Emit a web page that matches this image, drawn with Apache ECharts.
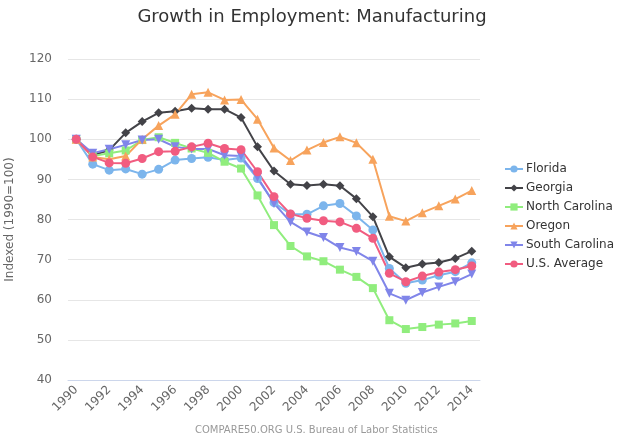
<!DOCTYPE html>
<html>
<head>
<meta charset="utf-8">
<script src="https://cdn.jsdelivr.net/npm/echarts@6/dist/echarts.min.js"></script>
<style>
  html, body { margin: 0; padding: 0; background: #fff; }
  #chart { width: 624px; height: 435px; }
</style>
</head>
<body>
<div id="chart"></div>
<script>
var years = ['1990','1991','1992','1993','1994','1995','1996','1997','1998','1999','2000','2001','2002',
             '2003','2004','2005','2006','2007','2008','2009','2010','2011','2012','2013','2014'];

var florida = [100, 93.8, 92.3, 92.6, 91.3, 92.5, 94.8, 95.2, 95.5, 94.8, 95.3, 90.2, 84.2,
               81.3, 81.3, 83.4, 84.0, 80.9, 77.4, 67.8, 64.1, 64.9, 66.1, 67.0, 69.2];
var georgia = [100, 96.0, 97.3, 101.6, 104.4, 106.6, 107.0, 107.7, 107.5, 107.5, 105.4, 98.1, 92.1,
               88.8, 88.5, 88.8, 88.4, 85.2, 80.7, 70.7, 68.0, 68.9, 69.3, 70.3, 72.1];
var northCarolina = [100, 95.8, 96.5, 97.2, 99.8, 100.5, 99.1, 97.7, 96.6, 94.4, 92.7, 86.0, 78.6,
                     73.4, 70.8, 69.6, 67.5, 65.7, 62.9, 54.9, 52.7, 53.2, 53.8, 54.1, 54.7];
var oregon = [100, 95.6, 95.0, 95.8, 100.0, 103.4, 106.2, 111.2, 111.7, 109.8, 109.9, 105.0, 97.8,
              94.7, 97.3, 99.2, 100.6, 99.1, 95.0, 80.8, 79.6, 81.7, 83.4, 85.1, 87.2];
var southCarolina = [100, 96.5, 97.5, 98.6, 99.8, 100.0, 98.1, 97.6, 97.6, 96.0, 95.8, 90.5, 84.0,
                     79.4, 76.9, 75.5, 73.0, 72.0, 69.6, 61.6, 59.9, 61.8, 63.2, 64.5, 66.4];
var usAverage = [100, 95.6, 94.1, 94.0, 95.2, 96.9, 97.0, 98.1, 99.0, 97.7, 97.4, 91.9, 85.7,
                 81.4, 80.3, 79.7, 79.4, 77.8, 75.3, 66.6, 64.5, 65.9, 66.9, 67.5, 68.4];

var seriesNames = ['Florida', 'Georgia', 'North Carolina', 'Oregon', 'South Carolina', 'U.S. Average'];
var seriesData = [florida, georgia, northCarolina, oregon, southCarolina, usAverage];
var colors = ['#7cb5ec', '#434348', '#90ed7d', '#f7a35c', '#8085e9', '#f15c80'];
var symbols = ['circle', 'diamond', 'rect', 'triangle', 'path://M0,0 L10,0 L5,10 Z', 'circle'];
var sizes = [9, 9, 8, 9, 9, 9];

var chart = echarts.init(document.getElementById('chart'));

var series = seriesNames.map(function (name, i) {
    return {
        name: name,
        type: 'line',
        data: seriesData[i],
        symbol: symbols[i],
        symbolSize: sizes[i],
        showAllSymbol: true,
        lineStyle: { width: 2, color: colors[i] },
        itemStyle: { color: colors[i] },
        emphasis: { disabled: true },
        animation: false
    };
});

var option = {
    color: colors,
    title: [{
        text: 'Growth in Employment: Manufacturing',
        left: 'center',
        top: 3,
        textStyle: { fontFamily: 'DejaVu Sans', fontSize: 18, fontWeight: 'normal', color: '#333' }
    }, {
        text: 'COMPARE50.ORG U.S. Bureau of Labor Statistics',
        left: 190,
        top: 420,
        textStyle: { fontFamily: 'DejaVu Sans', fontSize: 10, fontWeight: 'normal', color: '#999' }
    }],
    legend: {
        orient: 'vertical',
        left: 499,
        top: 158,
        itemGap: 7,
        itemWidth: 18,
        itemHeight: 9,
        textStyle: { fontFamily: 'DejaVu Sans', fontSize: 12, color: '#333', padding: [0, 0, 0, -2] },
        data: seriesNames
    },
    grid: { left: 68, right: 144, top: 59, bottom: 55, containLabel: false, outerBoundsMode: 'none' },
    xAxis: {
        type: 'category',
        data: years,
        boundaryGap: true,
        axisLine: { lineStyle: { color: '#ccd6eb' } },
        axisTick: { alignWithLabel: true, interval: 1, length: 8, lineStyle: { color: '#ccd6eb' } },
        axisLabel: {
            interval: 1, rotate: 45, color: '#666', fontSize: 12, fontFamily: 'DejaVu Sans', margin: 8
        },
        splitLine: { show: false }
    },
    yAxis: {
        type: 'value',
        min: 40,
        max: 120,
        interval: 10,
        name: 'Indexed (1990=100)',
        nameLocation: 'middle',
        nameGap: 52,
        nameTextStyle: { color: '#666', fontSize: 12, fontFamily: 'DejaVu Sans' },
        axisLine: { show: false },
        axisTick: { show: false },
        axisLabel: { color: '#666', fontSize: 12, fontFamily: 'DejaVu Sans', margin: 16 },
        splitLine: { lineStyle: { color: '#e6e6e6' } }
    },
    series: series
};

chart.setOption(option);
window.addEventListener('resize', chart.resize);
</script>
</body>
</html>
